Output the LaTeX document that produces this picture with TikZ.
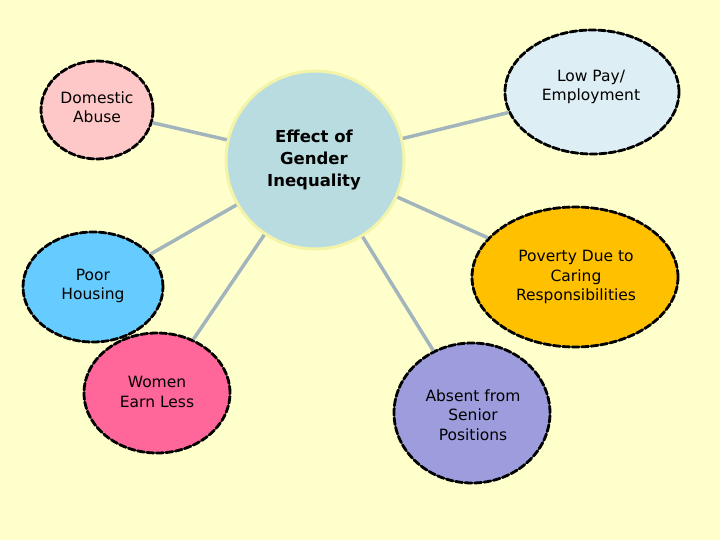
\documentclass[tikz,border=0pt]{standalone}
\usepackage{fontspec}
\setmainfont{DejaVu Sans}
\usetikzlibrary{shapes.geometric}
\definecolor{bg}{HTML}{FFFFCC}
\definecolor{conn}{HTML}{A3B5BC}
\definecolor{cpink}{HTML}{FFC8C8}
\definecolor{clow}{HTML}{DDEEF4}
\definecolor{chouse}{HTML}{66CCFF}
\definecolor{cpov}{HTML}{FFC000}
\definecolor{cwomen}{HTML}{FF6699}
\definecolor{cabs}{HTML}{9D9DDD}
\definecolor{ccenter}{HTML}{B8DCE0}
\definecolor{cglow}{HTML}{F4F4A8}
\tikzset{
 oval/.style={ellipse, draw=black, line width=2.8pt, dash pattern=on 7pt off 2.5pt, line cap=round, inner sep=0pt},
 lbl/.style={align=center, font=\fontsize{15.5}{19.5}\selectfont},
 link/.style={draw=conn, line width=3.5pt},
}
\begin{document}
\begin{tikzpicture}[x=1pt,y=-1pt]
\fill[bg] (0,0) rectangle (720,540);
\useasboundingbox (0,0) rectangle (720,540);
\node[circle, fill=ccenter, draw=cglow, line width=3pt, minimum size=178pt, inner sep=0pt] (c) at (315,160) {};
\node[align=center, font=\bfseries\fontsize{16.5}{22}\selectfont] (ct) at (314,160) {Effect of\\Gender\\Inequality};
\node[oval, fill=cpink, minimum width=112pt, minimum height=98pt] (da) at (97,110) {};
\node[lbl] (dat) at (97,107) {Domestic\\Abuse};
\node[oval, fill=clow, minimum width=174pt, minimum height=124pt] (lp) at (592,92) {};
\node[lbl] (lpt) at (591,87) {Low Pay/\\Employment};
\node[oval, fill=chouse, minimum width=140pt, minimum height=110pt] (ph) at (93,287) {};
\node[lbl] (pht) at (93,286) {Poor\\Housing};
\node[oval, fill=cpov, minimum width=206pt, minimum height=140pt] (pv) at (575,277) {};
\node[lbl] (pvt) at (576,277) {Poverty Due to\\Caring\\Responsibilities};
\node[oval, fill=cwomen, minimum width=146pt, minimum height=120pt] (we) at (157,393) {};
\node[lbl] (wet) at (157,392) {Women\\Earn Less};
\node[oval, fill=cabs, minimum width=156pt, minimum height=140pt] (ab) at (472,413) {};
\node[lbl] (abt) at (473,415) {Absent from\\Senior\\Positions};
\path[link] (da) -- (c);
\path[link] (lp) -- (c);
\path[link] (ph) -- (c);
\path[link] (pv) -- (c);
\path[link] (we) -- (c);
\path[link] (ab) -- (c);
\end{tikzpicture}
\end{document}
